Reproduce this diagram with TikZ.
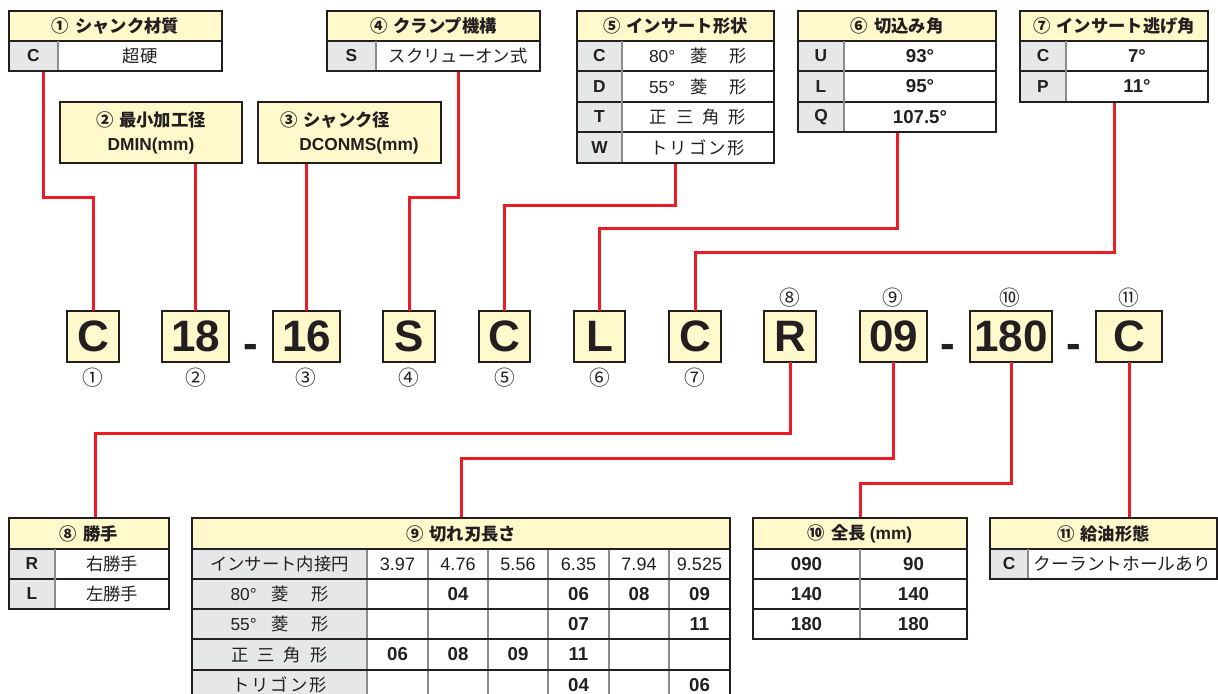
\documentclass[tikz,border=0pt]{standalone}
\usepackage{fontspec}
\setmainfont{Liberation Sans}
\newfontfamily\jp{Noto Sans CJK JP}
\newdimen\upx \upx=0.75pt
\definecolor{hdr}{HTML}{FFF9CC}
\definecolor{codegray}{HTML}{E6E7E8}
\definecolor{ink}{HTML}{231F20}
\definecolor{wirered}{HTML}{ED1C24}
\definecolor{gridgray}{HTML}{8C8C8C}
\newcommand\tcell[7]{\node[#2, anchor=north west, minimum width={(#5-#3)*0.75pt}, minimum height={(#6-#4)*0.75pt}] (#1) at (#3,#4) {#7};}
\tikzset{
  every node/.style={inner sep=0pt, outer sep=0pt, text=ink},
  hdrcell/.style={fill=hdr, font=\jp\bfseries\fontsize{13}{18}\selectfont},
  codecell/.style={fill=codegray, font=\bfseries\fontsize{13}{15}\selectfont},
  valcell/.style={fill=white, font=\fontsize{13}{15}\selectfont},
  bvalcell/.style={fill=white, font=\bfseries\fontsize{14}{16}\selectfont},
  labcell/.style={fill=codegray, font=\fontsize{13}{15}\selectfont},
  numtxt/.style={font=\fontsize{13.5}{15}\selectfont},
  bnumtxt/.style={font=\bfseries\fontsize{14}{16}\selectfont},
  frame/.style={draw=ink, line width=1.8pt},
  hb/.style={draw=ink, line width=1.5pt},
  hl/.style={draw=ink, line width=1.0pt},
  vl/.style={draw=gridgray, line width=1.1pt},
  wireline/.style={draw=wirered, line width=2.25pt},
  codebox/.style={fill=hdr, draw=ink, line width=1.1pt, minimum height={51*0.75pt}, anchor=north west, font=\bfseries\fontsize{33}{36}\selectfont},
  dashtxt/.style={font=\bfseries\fontsize{33}{36}\selectfont},
  circnum/.style={font=\jp\fontsize{15.5}{17}\selectfont},
}
\begin{document}
\begin{tikzpicture}[x=0.75pt, y=-0.75pt]
\clip (0,0) rectangle (1218,693);
\fill[white] (0,0) rectangle (1218,693);

% ---------- code boxes ----------
\node[codebox, minimum width={(119-67)*0.75pt}] (bC1) at (67,311) {C};
\node[codebox, minimum width={(229-162)*0.75pt}] (b18) at (162,311) {18};
\node[dashtxt] (d1) at (251,351) {-};
\node[codebox, minimum width={(340-273)*0.75pt}] (b16) at (273,311) {16};
\node[codebox, minimum width={(435-383)*0.75pt}] (bS) at (383,311) {S};
\node[codebox, minimum width={(530-479)*0.75pt}] (bC5) at (479,311) {C};
\node[codebox, minimum width={(625-574)*0.75pt}] (bL) at (574,311) {L};
\node[codebox, minimum width={(721-669)*0.75pt}] (bC7) at (669,311) {C};
\node[codebox, minimum width={(816-764)*0.75pt}] (bR) at (764,311) {R};
\node[codebox, minimum width={(927-860)*0.75pt}] (b09) at (860,311) {09};
\node[dashtxt] (d2) at (948,351) {-};
\node[codebox, minimum width={(1052-970)*0.75pt}] (b180) at (970,311) {180};
\node[dashtxt] (d3) at (1074,351) {-};
\node[codebox, minimum width={(1162-1096)*0.75pt}] (bC11) at (1096,311) {C};

\node[circnum] (n1) at (93,378) {①};
\node[circnum] (n2) at (196,378) {②};
\node[circnum] (n3) at (306,378) {③};
\node[circnum] (n4) at (409,378) {④};
\node[circnum] (n5) at (505,378) {⑤};
\node[circnum] (n6) at (600,378) {⑥};
\node[circnum] (n7) at (695,378) {⑦};
\node[circnum] (n8) at (790,298) {⑧};
\node[circnum] (n9) at (893,298) {⑨};
\node[circnum] (n10) at (1010,298) {⑩};
\node[circnum] (n11) at (1129,298) {⑪};

% ---------- top tables ----------
% 1
\tcell{t1h}{hdrcell}{9}{11}{222}{41}{①\hspace{6\upx}シャンク材質}
\tcell{t1c}{codecell}{9}{41}{58}{71}{C}
\tcell{t1v}{valcell}{58}{41}{222}{71}{\jp 超硬}
% 2, 3
\tcell{t2}{hdrcell, align=center}{60}{102}{242}{163}{②\hspace{6\upx}最小加工径\\{\rmfamily\bfseries DMIN(mm)}}
\tcell{t3}{hdrcell, align=left}{258}{102}{441}{163}{③\hspace{6\upx}シャンク径\\\hspace*{19\upx}{\rmfamily\bfseries DCONMS(mm)}}
% 4
\tcell{t4h}{hdrcell}{327}{11}{540}{41}{④\hspace{6\upx}クランプ機構}
\tcell{t4c}{codecell}{327}{41}{376}{71}{S}
\tcell{t4v}{valcell}{376}{41}{540}{71}{\jp スクリューオン式}
% 5
\tcell{t5h}{hdrcell}{577}{11}{774}{41}{⑤\hspace{6\upx}インサート形状}
\tcell{t5c1}{codecell}{577}{41}{622}{71}{C}
\tcell{t5v1}{valcell}{622}{41}{774}{71}{80°\hspace{15\upx}{\jp 菱}\hspace{22\upx}{\jp 形}}
\tcell{t5c2}{codecell}{577}{71}{622}{102}{D}
\tcell{t5v2}{valcell}{622}{71}{774}{102}{55°\hspace{15\upx}{\jp 菱}\hspace{22\upx}{\jp 形}}
\tcell{t5c3}{codecell}{577}{102}{622}{132}{T}
\tcell{t5v3}{valcell}{622}{102}{774}{132}{\jp 正\hspace{9\upx}三\hspace{9\upx}角\hspace{9\upx}形}
\tcell{t5c4}{codecell}{577}{132}{622}{163}{W}
\tcell{t5v4}{valcell}{622}{132}{774}{163}{\jp ト\hspace{2\upx}リ\hspace{2\upx}ゴ\hspace{2\upx}ン\hspace{2\upx}形}
% 6
\tcell{t6h}{hdrcell}{798}{11}{996}{41}{⑥\hspace{6\upx}切込み角}
\tcell{t6c1}{codecell}{798}{41}{844}{71}{U}
\tcell{t6v1}{bvalcell}{844}{41}{996}{71}{93°}
\tcell{t6c2}{codecell}{798}{71}{844}{102}{L}
\tcell{t6v2}{bvalcell}{844}{71}{996}{102}{95°}
\tcell{t6c3}{codecell}{798}{102}{844}{132}{Q}
\tcell{t6v3}{bvalcell}{844}{102}{996}{132}{107.5°}
% 7
\tcell{t7h}{hdrcell}{1020}{11}{1208}{41}{⑦\hspace{6\upx}インサート逃げ角}
\tcell{t7c1}{codecell}{1020}{41}{1066}{71}{C}
\tcell{t7v1}{bvalcell}{1066}{41}{1208}{71}{7°}
\tcell{t7c2}{codecell}{1020}{71}{1066}{102}{P}
\tcell{t7v2}{bvalcell}{1066}{71}{1208}{102}{11°}

% ---------- bottom tables ----------
% 8
\tcell{t8h}{hdrcell}{9}{518}{169}{549}{⑧\hspace{6\upx}勝手}
\tcell{t8c1}{codecell}{9}{549}{55}{579}{R}
\tcell{t8v1}{valcell}{55}{549}{169}{579}{\jp 右勝手}
\tcell{t8c2}{codecell}{9}{579}{55}{609}{L}
\tcell{t8v2}{valcell}{55}{579}{169}{609}{\jp 左勝手}
% 9
\tcell{t9h}{hdrcell}{192}{518}{730}{549}{⑨\hspace{6\upx}切れ刃長さ}
\tcell{t9l0}{labcell}{192}{549}{367}{579}{\jp インサート内接円}
\tcell{t9l1}{labcell}{192}{579}{367}{609}{80°\hspace{15\upx}{\jp 菱}\hspace{22\upx}{\jp 形}}
\tcell{t9l2}{labcell}{192}{609}{367}{639}{55°\hspace{15\upx}{\jp 菱}\hspace{22\upx}{\jp 形}}
\tcell{t9l3}{labcell}{192}{639}{367}{670}{\jp 正\hspace{9\upx}三\hspace{9\upx}角\hspace{9\upx}形}
\tcell{t9l4}{labcell}{192}{670}{367}{700}{\jp ト\hspace{2\upx}リ\hspace{2\upx}ゴ\hspace{2\upx}ン\hspace{2\upx}形}
% size row
\node[numtxt] (s1) at (397.5,564) {3.97};
\node[numtxt] (s2) at (458,564) {4.76};
\node[numtxt] (s3) at (518,564) {5.56};
\node[numtxt] (s4) at (578.5,564) {6.35};
\node[numtxt] (s5) at (639,564) {7.94};
\node[numtxt] (s6) at (699.5,564) {9.525};
% data rows
\node[bnumtxt] (r1c2) at (458,594) {04};
\node[bnumtxt] (r1c4) at (578.5,594) {06};
\node[bnumtxt] (r1c5) at (639,594) {08};
\node[bnumtxt] (r1c6) at (699.5,594) {09};
\node[bnumtxt] (r2c4) at (578.5,624) {07};
\node[bnumtxt] (r2c6) at (699.5,624) {11};
\node[bnumtxt] (r3c1) at (397.5,654.5) {06};
\node[bnumtxt] (r3c2) at (458,654.5) {08};
\node[bnumtxt] (r3c3) at (518,654.5) {09};
\node[bnumtxt] (r3c4) at (578.5,654.5) {11};
\node[bnumtxt] (r4c4) at (578.5,685) {04};
\node[bnumtxt] (r4c6) at (699.5,685) {06};
% 10
\tcell{t10h}{hdrcell}{753}{518}{967}{549}{⑩\hspace{6\upx}全長\hspace{4\upx}{\rmfamily\bfseries (mm)}}
\tcell{t10a1}{bvalcell}{753}{549}{860}{579}{090}
\tcell{t10b1}{bvalcell}{860}{549}{967}{579}{90}
\tcell{t10a2}{bvalcell}{753}{579}{860}{609}{140}
\tcell{t10b2}{bvalcell}{860}{579}{967}{609}{140}
\tcell{t10a3}{bvalcell}{753}{609}{860}{639}{180}
\tcell{t10b3}{bvalcell}{860}{609}{967}{639}{180}
% 11
\tcell{t11h}{hdrcell}{990}{518}{1217}{549}{⑪\hspace{6\upx}給油形態}
\tcell{t11c}{codecell}{990}{549}{1028}{579}{C}
\tcell{t11v}{valcell}{1028}{549}{1217}{579}{\jp\fontsize{13.3}{16}\selectfont クーラントホールあり}

% ---------- connectors ----------
\draw[wireline] ([xshift=7.5pt]t1c.south) -- ++(0,126) -| (bC1.north);
\draw[wireline] (b18.north |- t2.south) -- (b18.north);
\draw[wireline] (b16.north |- t3.south) -- (b16.north);
\draw[wireline] (t4v.south) -- ++(0,126) -| (bS.north);
\draw[wireline] (t5h.south |- t5v4.south) -- ++(0,42) -| (bC5.north);
\draw[wireline] (t6h.south |- t6v3.south) -- ++(0,96) -| (bL.north);
\draw[wireline] (t7h.south |- t7v2.south) -- ++(0,150) -| (bC7.north);
\draw[wireline] (bR.south) -- ++(0,71) -| ([xshift=4.5pt]t8h.north);
\draw[wireline] (b09.south) -- ++(0,96) -| (t9h.north);
\draw[wireline] (b180.south) -- ++(0,121) -| (t10h.north);
\draw[wireline] (bC11.south) -- (bC11.south |- t11h.north);

% ---------- grid lines ----------
% 1
\draw[hb] (t1h.south west) -- (t1h.south east);
\draw[vl] (t1c.north east) -- (t1c.south east);
\draw[frame] (t1h.north west) rectangle (t1v.south east);
% 2,3
\draw[frame] (t2.north west) rectangle (t2.south east);
\draw[frame] (t3.north west) rectangle (t3.south east);
% 4
\draw[hb] (t4h.south west) -- (t4h.south east);
\draw[vl] (t4c.north east) -- (t4c.south east);
\draw[frame] (t4h.north west) rectangle (t4v.south east);
% 5
\draw[hb] (t5h.south west) -- (t5h.south east);
\draw[hl] (t5c1.south west) -- (t5v1.south east);
\draw[hl] (t5c2.south west) -- (t5v2.south east);
\draw[hl] (t5c3.south west) -- (t5v3.south east);
\draw[vl] (t5c1.north east) -- (t5c4.south east);
\draw[frame] (t5h.north west) rectangle (t5v4.south east);
% 6
\draw[hb] (t6h.south west) -- (t6h.south east);
\draw[hl] (t6c1.south west) -- (t6v1.south east);
\draw[hl] (t6c2.south west) -- (t6v2.south east);
\draw[vl] (t6c1.north east) -- (t6c3.south east);
\draw[frame] (t6h.north west) rectangle (t6v3.south east);
% 7
\draw[hb] (t7h.south west) -- (t7h.south east);
\draw[hl] (t7c1.south west) -- (t7v1.south east);
\draw[vl] (t7c1.north east) -- (t7c2.south east);
\draw[frame] (t7h.north west) rectangle (t7v2.south east);
% 8
\draw[hb] (t8h.south west) -- (t8h.south east);
\draw[hl] (t8c1.south west) -- (t8v1.south east);
\draw[vl] (t8c1.north east) -- (t8c2.south east);
\draw[frame] (t8h.north west) rectangle (t8v2.south east);
% 9
\foreach \xx in {428,488,548,609,669} \draw[vl] (\xx,549) -- (\xx,700);
\draw[vl] (t9l0.north east) -- (t9l4.south east);
\draw[hb] (t9h.south west) -- (t9h.south east);
\draw[hb] (t9l0.south west) -- (t9l0.south west -| t9h.south east);
\draw[hl] (t9l1.south west) -- (t9l1.south west -| t9h.south east);
\draw[hl] (t9l2.south west) -- (t9l2.south west -| t9h.south east);
\draw[hl] (t9l3.south west) -- (t9l3.south west -| t9h.south east);
\draw[frame] (t9h.north west) rectangle (t9l4.south west -| t9h.south east);
% 10
\draw[hb] (t10h.south west) -- (t10h.south east);
\draw[hl] (t10a1.south west) -- (t10b1.south east);
\draw[hl] (t10a2.south west) -- (t10b2.south east);
\draw[vl] (t10a1.north east) -- (t10a3.south east);
\draw[frame] (t10h.north west) rectangle (t10b3.south east);
% 11
\draw[hb] (t11h.south west) -- (t11h.south east);
\draw[vl] (t11c.north east) -- (t11c.south east);
\draw[frame] (t11h.north west) rectangle (t11v.south east);
\end{tikzpicture}
\end{document}
